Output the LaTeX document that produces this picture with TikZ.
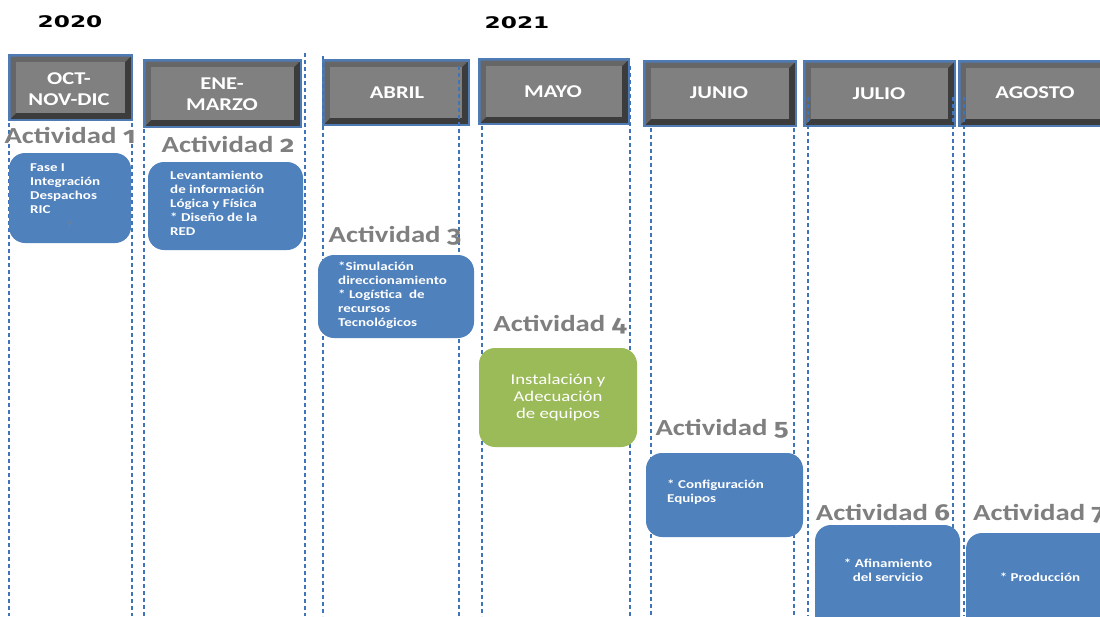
\documentclass[tikz,border=0pt]{standalone}
\usepackage{fontspec}
\setmainfont{Carlito}
% wide Calibri-like face used for all labels
\newfontfamily\cf[FakeStretch=1.25]{Carlito}
% old-style figures for the activity numbers
\newfontfamily\df[FakeStretch=1.2,Numbers=OldStyle]{Fira Sans}
% broad bold face for the year headings
\newfontfamily\yf[FakeStretch=1.45]{DejaVu Sans}

\definecolor{cardblue}{HTML}{4F81BD}
\definecolor{cardgreen}{HTML}{9BBB59}
\definecolor{hdrblue}{HTML}{4F7BB5}
\definecolor{guideblue}{HTML}{3F74BA}
\definecolor{actgray}{HTML}{7F7F7F}
\definecolor{bevdark}{HTML}{3C3C3C}
\definecolor{bevlight}{HTML}{666666}
\definecolor{facegray}{HTML}{808080}

% bevelled month header: left, top, right, bottom
\newcommand\monthbox[4]{%
  \fill[hdrblue] (#1,#2) rectangle (#3,#4);
  \fill[bevdark] (#1+2.5,#2+2.5) rectangle (#3-2.5,#4-2.5);
  \fill[bevlight] (#1+2.5,#2+2.5) -- (#3-2.5,#2+2.5) -- (#3-8,#2+8) -- (#1+8,#2+8)
                  -- (#1+8,#4-8) -- (#1+2.5,#4-2.5) -- cycle;
  \fill[facegray] (#1+8,#2+8) rectangle (#3-8,#4-8);
}

\begin{document}
\begin{tikzpicture}[x=1pt,y=-1pt,
  guide/.style={draw=guideblue, line width=1.4pt, dash pattern=on 4pt off 3pt},
  year/.style={font=\yf\bfseries\fontsize{16}{18}\selectfont, text=black, inner sep=0pt, anchor=base},
  monthtext/.style={font=\cf\bfseries\fontsize{18}{21.5}\selectfont, text=white, align=center, inner sep=0pt},
  actlabel/.style={font=\cf\bfseries\fontsize{23}{26}\selectfont, text=actgray, inner sep=0pt, anchor=base},
  card/.style={fill=cardblue, rounded corners=16pt},
  greencard/.style={fill=cardgreen, rounded corners=16pt},
  cardtext/.style={font=\cf\bfseries\fontsize{12}{14}\selectfont, text=white, align=left, inner sep=0pt, anchor=north west},
  centertext/.style={font=\cf\bfseries\fontsize{12}{14}\selectfont, text=white, align=center, inner sep=0pt}
]
\useasboundingbox (0,0) rectangle (1100,616);
\clip (0,0) rectangle (1100,616);
\fill[white] (0,0) rectangle (1100,616);

% years
\node[year] (y2020) at (70,27) {2020};
\node[year] (y2021) at (517,28) {2021};

% month headers
\monthbox{8}{54}{133}{121}
\monthbox{143}{59}{302}{128}
\monthbox{322}{59}{470}{126}
\monthbox{478}{58}{630}{125}
\monthbox{643}{60}{797}{127}
\monthbox{803}{60}{956}{127}
\monthbox{958}{60}{1110}{127}

\node[monthtext] (m1) at (69,89) {OCT-\\NOV-DIC};
\node[monthtext] (m2) at (222,94) {ENE-\\MARZO};
\node[monthtext] (m3) at (397,93) {ABRIL};
\node[monthtext] (m4) at (553,92) {MAYO};
\node[monthtext] (m5) at (719,93) {JUNIO};
\node[monthtext] (m6) at (879,94) {JULIO};
\node[monthtext] (m7) at (1035,93) {AGOSTO};

% column guides
\draw[guide] (9,123) -- (9,616);
\draw[guide] (132,123) -- (132,616);
\draw[guide] (144,129) -- (144,616);
\draw[guide] (305,53) -- (305,616);
\draw[guide] (323,56) -- (323,616);
\draw[guide] (459,66) -- (459,616);
\draw[guide] (482,126) -- (482,616);
\draw[guide] (630,66) -- (630,616);
\draw[guide] (651,128) -- (651,616);
\draw[guide] (794,128) -- (794,616);
\draw[guide] (808,97) -- (808,616);
\draw[guide] (953,97) -- (953,616);
\draw[guide] (964,97) -- (964,616);

% activity titles
\node[actlabel] (a1) at (70,143) {Actividad {\df 1}};
\node[actlabel] (a2) at (228,152) {Actividad {\df 2}};
\node[actlabel] (a3) at (395,242) {Actividad {\df 3}};
\node[actlabel] (a4) at (560,331) {Actividad {\df 4}};
\node[actlabel] (a5) at (722,435) {Actividad {\df 5}};
\node[actlabel] (a6) at (883,520) {Actividad {\df 6}};
\node[actlabel, anchor=base west] (a7) at (973,520) {Actividad {\df 7}};

% activity cards
\fill[card] (9,153) rectangle (131,243);
\fill[card] (148,162) rectangle (303,250);
\fill[card] (318,255) rectangle (474,338);
\fill[greencard] (479,348) rectangle (637,447);
\fill[card] (646,453) rectangle (803,537);
\fill[card] (815,525) rectangle (960,650);
\fill[card] (966,533) rectangle (1130,650);

\node[cardtext, font=\cf\bfseries\fontsize{12}{13.7}\selectfont] (t1) at (30,164)
  {Fase I\\Integración\\Despachos\\RIC};
\node[font=\cf\itshape\fontsize{9}{10}\selectfont, text=actgray, inner sep=0pt] (t1f) at (70,225) {f};
\node[cardtext] (t2) at (170,171)
  {Levantamiento\\de información\\Lógica y Física\\* Diseño de la\\RED};
\node[cardtext] (t3) at (338,262)
  {*Simulación\\direccionamiento\\* Logística\ \ de\\recursos\\Tecnológicos};
\node[font=\cf\fontsize{15}{17}\selectfont, text=white, align=center, inner sep=0pt] (t4) at (558,397)
  {Instalación y\\Adecuación\\de equipos};
\node[cardtext] (t5) at (667,480) {* Configuración\\Equipos};
\node[centertext] (t6) at (888,570) {* Afinamiento\\del servicio};
\node[centertext] (t7) at (1040,577) {* Producción};
\end{tikzpicture}
\end{document}
